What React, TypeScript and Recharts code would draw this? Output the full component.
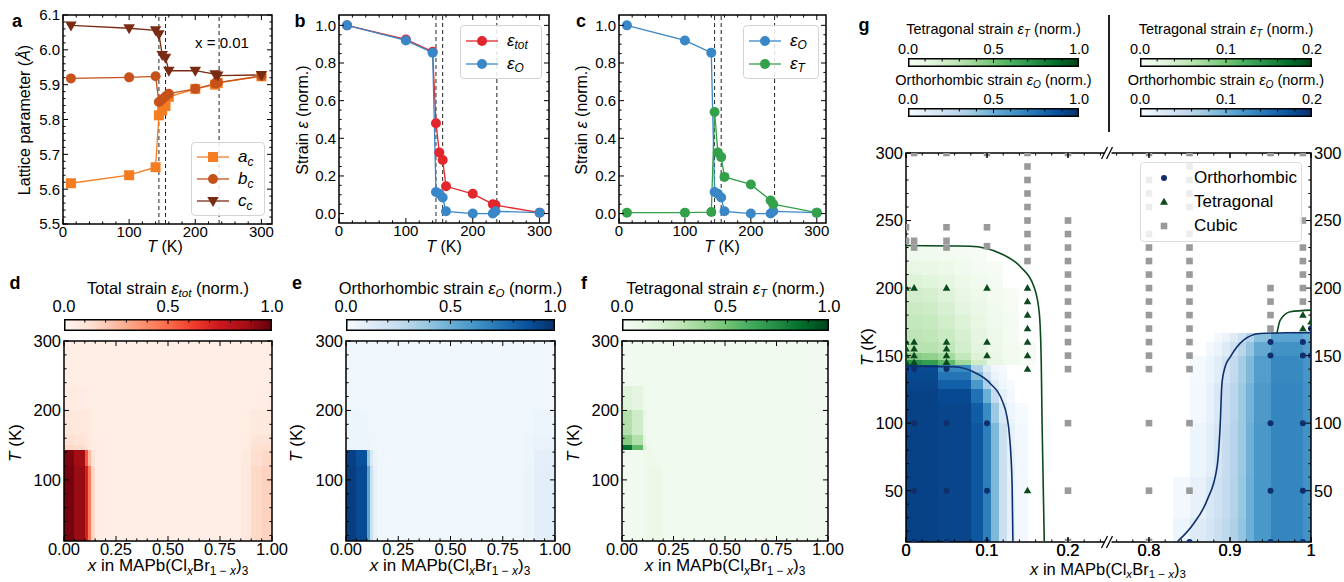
import React from "react";
import {
  LineChart, Line, ComposedChart, Scatter, XAxis, YAxis,
  ReferenceArea, ReferenceLine, ReferenceDot, Legend,
} from "recharts";

const FONT = "'Liberation Sans', Arial, Helvetica, sans-serif";

// ---- a–c: x = 0.01, temperature scans ----
const temps = [12, 100, 140, 145, 150, 155, 160, 200, 230, 234, 300];
const latticeA = [5.617, 5.64, 5.663, 5.812, 5.826, 5.839, 5.865, 5.888, 5.9, 5.905, 5.924];
const latticeB = [5.918, 5.921, 5.924, 5.85, 5.858, 5.866, 5.874, 5.888, 5.903, 5.906, 5.925];
const latticeC = [6.07, 6.062, 6.056, 6.045, 5.985, 5.977, 5.94, 5.94, 5.93, 5.926, 5.928];
const strainTot = [1.0, 0.925, 0.86, 0.48, 0.325, 0.285, 0.145, 0.105, 0.05, 0.045, 0.005];
const strainO = [1.0, 0.92, 0.855, 0.115, 0.105, 0.085, 0.012, 0.0, 0.0, 0.012, 0.005];
const strainT = [0.005, 0.005, 0.008, 0.54, 0.325, 0.3, 0.195, 0.155, 0.07, 0.05, 0.005];
const transitionTemps = [145, 155, 236];

// ---- d–f: strain maps (rows = T bands, bottom to top) ----
const mapX = [0, 0.05, 0.1, 0.115, 0.13, 0.15, 0.2, 0.85, 0.9, 0.95, 1.0];
const mapT = [12, 120, 143, 150, 165, 200, 235, 300];
const totalRows = [
  [0.97, 0.9, 0.72, 0.45, 0.15, 0.05, 0.04, 0.08, 0.15, 0.17],
  [0.96, 0.88, 0.55, 0.25, 0.1, 0.05, 0.04, 0.07, 0.13, 0.15],
  [0.15, 0.14, 0.1, 0.07, 0.06, 0.05, 0.04, 0.06, 0.12, 0.13],
  [0.12, 0.11, 0.09, 0.07, 0.05, 0.05, 0.04, 0.06, 0.1, 0.11],
  [0.09, 0.08, 0.07, 0.06, 0.05, 0.04, 0.04, 0.05, 0.07, 0.07],
  [0.06, 0.06, 0.05, 0.05, 0.04, 0.04, 0.04, 0.04, 0.05, 0.05],
  [0.04, 0.04, 0.04, 0.04, 0.04, 0.04, 0.04, 0.04, 0.04, 0.04],
];
const orthoRows = [
  [0.95, 0.9, 0.55, 0.22, 0.08, 0.04, 0.04, 0.06, 0.1, 0.11],
  [0.94, 0.88, 0.4, 0.15, 0.06, 0.04, 0.04, 0.05, 0.09, 0.1],
  [0.06, 0.06, 0.05, 0.04, 0.04, 0.04, 0.04, 0.05, 0.07, 0.07],
  [0.05, 0.05, 0.05, 0.04, 0.04, 0.04, 0.04, 0.05, 0.07, 0.07],
  [0.05, 0.05, 0.04, 0.04, 0.04, 0.04, 0.04, 0.04, 0.05, 0.05],
  [0.04, 0.04, 0.04, 0.04, 0.04, 0.04, 0.04, 0.04, 0.04, 0.04],
  [0.04, 0.04, 0.04, 0.04, 0.04, 0.04, 0.04, 0.04, 0.04, 0.04],
];
const tetraRows = [
  [0.04, 0.04, 0.05, 0.07, 0.08, 0.07, 0.04, 0.04, 0.05, 0.05],
  [0.04, 0.04, 0.05, 0.06, 0.06, 0.05, 0.04, 0.04, 0.05, 0.05],
  [0.85, 0.55, 0.18, 0.08, 0.05, 0.04, 0.04, 0.04, 0.05, 0.05],
  [0.45, 0.32, 0.12, 0.05, 0.04, 0.04, 0.04, 0.04, 0.05, 0.05],
  [0.32, 0.22, 0.09, 0.05, 0.04, 0.04, 0.04, 0.04, 0.04, 0.04],
  [0.15, 0.12, 0.06, 0.04, 0.04, 0.04, 0.04, 0.04, 0.04, 0.04],
  [0.04, 0.04, 0.04, 0.04, 0.04, 0.04, 0.04, 0.04, 0.04, 0.04],
];

// ---- g: phase diagram ----
const gOrthoLX = [0, 0.04, 0.08, 0.095, 0.105, 0.115, 0.125, 0.135, 0.15];
const gOrthoLT = [12, 100, 115, 125, 132, 138, 143];
const gOrthoLRows = [
  [0.93, 0.92, 0.85, 0.7, 0.45, 0.22, 0.08, 0.02],
  [0.93, 0.92, 0.83, 0.65, 0.38, 0.15, 0.05, 0.01],
  [0.93, 0.9, 0.75, 0.5, 0.25, 0.08, 0.02, 0],
  [0.92, 0.82, 0.6, 0.33, 0.12, 0.04, 0.01, 0],
  [0.91, 0.74, 0.45, 0.2, 0.06, 0.02, 0, 0],
  [0.9, 0.66, 0.32, 0.12, 0.03, 0.01, 0, 0],
];
const gTetraLX = [0, 0.02, 0.04, 0.06, 0.08, 0.1, 0.12, 0.14, 0.16];
const gTetraLT = [143, 147, 152, 160, 170, 180, 190, 200, 210, 220, 232];
const gTetraLRows = [
  [0.72, 0.68, 0.55, 0.38, 0.22, 0.1, 0.04, 0.01],
  [0.45, 0.42, 0.36, 0.26, 0.16, 0.08, 0.03, 0.01],
  [0.3, 0.3, 0.27, 0.2, 0.13, 0.07, 0.03, 0.01],
  [0.28, 0.27, 0.24, 0.18, 0.12, 0.06, 0.02, 0],
  [0.26, 0.25, 0.21, 0.16, 0.1, 0.05, 0.02, 0],
  [0.24, 0.22, 0.18, 0.13, 0.08, 0.04, 0.01, 0],
  [0.21, 0.19, 0.15, 0.1, 0.06, 0.03, 0.01, 0],
  [0.16, 0.14, 0.11, 0.07, 0.04, 0.02, 0, 0],
  [0.1, 0.09, 0.07, 0.04, 0.02, 0.01, 0, 0],
  [0.05, 0.04, 0.03, 0.02, 0.01, 0, 0, 0],
];
// right side is on the 0–0.2 scale
const gOrthoRX = [0.83, 0.85, 0.87, 0.88, 0.89, 0.9, 0.91, 0.92, 0.93, 0.95, 0.99, 1.0];
const gOrthoRT = [12, 30, 60, 100, 130, 150, 160, 167];
const gOrthoRRows = [
  [0.01, 0.025, 0.035, 0.045, 0.055, 0.065, 0.08, 0.1, 0.12, 0.135, 0.125],
  [0.005, 0.015, 0.03, 0.04, 0.05, 0.062, 0.078, 0.1, 0.12, 0.135, 0.125],
  [0, 0.01, 0.02, 0.035, 0.048, 0.06, 0.076, 0.098, 0.12, 0.135, 0.125],
  [0, 0.005, 0.015, 0.03, 0.045, 0.058, 0.075, 0.095, 0.118, 0.135, 0.125],
  [0, 0.003, 0.01, 0.022, 0.038, 0.052, 0.07, 0.09, 0.115, 0.132, 0.122],
  [0, 0, 0.005, 0.012, 0.025, 0.04, 0.058, 0.08, 0.105, 0.125, 0.115],
  [0, 0, 0, 0.005, 0.012, 0.025, 0.04, 0.06, 0.085, 0.11, 0.1],
];

const orthoCols: [number, number[]][] = [
  [0, [140]],
  [0.01, [140, 100, 50, 12]],
  [0.05, [140, 100, 50, 12]],
  [0.1, [100, 50, 12]],
  [0.85, [12]],
  [0.95, [160, 150, 100, 50, 12]],
  [0.99, [160, 150, 100, 50, 12]],
  [1, [170, 150]],
];
const tetraCols: [number, number[]][] = [
  [0, [200, 160, 155, 150, 145]],
  [0.01, [200, 160, 155, 150, 145]],
  [0.05, [200, 160, 155, 150, 145]],
  [0.1, [200, 160, 150]],
  [0.15, [200, 190, 180, 170, 160, 150, 140, 50]],
  [0.99, [180, 170]],
  [1, [175]],
];
const cubicCols: [number, number[]][] = [
  [0, [245, 235]],
  [0.01, [300, 235, 230]],
  [0.05, [300, 245, 235, 230]],
  [0.1, [300, 245, 231]],
  [0.15, [300, 290, 280, 270, 260, 250, 240, 230, 220]],
  [0.2, [300, 250, 240, 230, 220, 210, 200, 190, 180, 170, 160, 150, 140, 100, 50, 12]],
  [0.8, [300, 280, 270, 260, 240, 230, 220, 210, 200, 190, 180, 170, 160, 150, 140, 100, 50, 12]],
  [0.85, [300, 290, 280, 270, 260, 240, 230, 220, 210, 200, 190, 180, 170, 160, 150, 140, 100, 50]],
  [0.95, [300, 200, 190, 180, 170]],
  [0.99, [300, 250, 230, 220, 210, 200, 190]],
];
const tetraBoundaryL: [number, number][] = [
  [0, 231.5], [0.079, 231], [0.116, 225.8], [0.141, 215.9], [0.158, 201],
  [0.1646, 181.3], [0.167, 144], [0.168, 100], [0.1707, 12],
];
const orthoBoundaryL: [number, number][] = [
  [0, 142.2], [0.059, 141.7], [0.083, 138], [0.104, 129.4], [0.1185, 117],
  [0.1247, 104.6], [0.1275, 92.3], [0.131, 55], [0.132, 12],
];
const orthoBoundaryR: [number, number][] = [
  [0.8346, 12], [0.855, 25.5], [0.8716, 42.8], [0.884, 67.5], [0.888, 100],
  [0.89, 129], [0.894, 141.7], [0.9004, 149.1], [0.9168, 161.5], [0.937, 166.4],
  [0.97, 166.9], [1.0, 167],
];
const tetraBoundaryR: [number, number][] = [
  [0.958, 166.6], [0.962, 176.3], [0.9745, 182.5], [1.0, 183.7],
];
const gMajorU = [0, 0.1, 0.2, 0.3, 0.4, 0.5];
const gMajorLabels = ["0", "0.1", "0.2", "0.8", "0.9", "1"];

// ---- colours ----
const REDS = ["#fff5f0", "#fee0d2", "#fcbba1", "#fc9272", "#fb6a4a", "#ef3b2c", "#cb181d", "#a50f15", "#67000d"];
const BLUES = ["#f7fbff", "#deebf7", "#c6dbef", "#9ecae1", "#6baed6", "#4292c6", "#2171b5", "#08519c", "#08306b"];
const GREENS = ["#f7fcf5", "#e5f5e0", "#c7e9c0", "#a1d99b", "#74c476", "#41ab5d", "#238b45", "#006d2c", "#00441b"];
const C_A = "#f47d22", C_B = "#c6511b", C_C = "#7a2c12";
const C_TOT = "#e3262b", C_O = "#3a87c8", C_T = "#33a04a";
const NAVY = "#0f2f6c", DKGREEN = "#0b4a1d", GREY = "#9a9a9a";

const rgb = (h: string) => [1, 3, 5].map((k) => parseInt(h.slice(k, k + 2), 16));
function cmap(stops: string[], v: number) {
  const t = Math.max(0, Math.min(1, v)) * (stops.length - 1);
  const i = Math.min(stops.length - 2, Math.floor(t));
  const f = t - i;
  const a = rgb(stops[i]), b = rgb(stops[i + 1]);
  const c = a.map((ai, k) => Math.round(ai + (b[k] - ai) * f));
  return `rgb(${c[0]},${c[1]},${c[2]})`;
}

const range = (a: number, b: number, s: number) => {
  const out: number[] = [];
  for (let v = a; v <= b + 1e-9; v += s) out.push(+v.toFixed(6));
  return out;
};
const has = (arr: number[], v: number) => arr.some((m) => Math.abs(m - v) < 1e-6);
const toU = (x: number) => (x > 0.5 ? x - 0.5 : x);
const same = (x: number) => x;

const YW = 50, MT = 12, XH = 40;

type TickOpts = { majors: number[]; fmt: (v: number) => string; span: number; size: number; right?: boolean };

const xTick = (o: TickOpts) => (p: any) => {
  const v = p.payload.value;
  const major = has(o.majors, v);
  const L = major ? 5 : 2.6;
  return (
    <g>
      <line x1={p.x} x2={p.x} y1={p.y} y2={p.y - L} stroke="#000" strokeWidth={1} />
      <line x1={p.x} x2={p.x} y1={p.y - o.span} y2={p.y - o.span + L} stroke="#000" strokeWidth={1} />
      {major && (
        <text x={p.x} y={p.y + 2} dy="0.74em" textAnchor="middle" fontSize={o.size} fontFamily={FONT} fill="#000">
          {o.fmt(v)}
        </text>
      )}
    </g>
  );
};

const yTick = (o: TickOpts) => (p: any) => {
  const v = p.payload.value;
  const major = has(o.majors, v);
  const L = major ? 5 : 2.6;
  return (
    <g>
      <line x1={p.x} x2={p.x + L} y1={p.y} y2={p.y} stroke="#000" strokeWidth={1} />
      <line x1={p.x + o.span} x2={p.x + o.span - L} y1={p.y} y2={p.y} stroke="#000" strokeWidth={1} />
      {major && (
        <text x={p.x - 3} y={p.y} dy="0.36em" textAnchor="end" fontSize={o.size} fontFamily={FONT} fill="#000">
          {o.fmt(v)}
        </text>
      )}
      {major && o.right && (
        <text x={p.x + o.span + 3} y={p.y} dy="0.36em" textAnchor="start" fontSize={o.size} fontFamily={FONT} fill="#000">
          {o.fmt(v)}
        </text>
      )}
    </g>
  );
};

function Marker({ kind, cx, cy, r, color }: any) {
  if (cx == null || cy == null) return null;
  if (kind === "square") return <rect x={cx - r} y={cy - r} width={2 * r} height={2 * r} fill={color} />;
  if (kind === "down")
    return <polygon points={`${cx - r * 1.15},${cy - r * 0.8} ${cx + r * 1.15},${cy - r * 0.8} ${cx},${cy + r * 1.2}`} fill={color} />;
  if (kind === "up")
    return <polygon points={`${cx},${cy - r * 1.2} ${cx - r * 1.15},${cy + r * 0.8} ${cx + r * 1.15},${cy + r * 0.8}`} fill={color} />;
  return <circle cx={cx} cy={cy} r={r} fill={color} />;
}

const Sub = ({ children }: any) => (
  <span style={{ fontSize: "0.7em", position: "relative", top: "0.3em" }}>{children}</span>
);

function Txt({ x, y, size = 15, anchor = "middle", rotate = 0, bold = false, children }: any) {
  const tx = anchor === "middle" ? "-50%" : anchor === "end" ? "-100%" : "0";
  return (
    <div
      style={{
        position: "absolute", left: x, top: y, fontSize: size, fontWeight: bold ? 700 : 400,
        transform: `translate(${tx}, -50%) rotate(${rotate}deg)`, whiteSpace: "nowrap", lineHeight: 1.15,
      }}
    >
      {children}
    </div>
  );
}

function LineLegend({ items, rowH, size, lineW = 32, gap = 9 }: any) {
  return (
    <div style={{ border: "1px solid #d4d4d4", borderRadius: 4, background: "rgba(255,255,255,0.85)", padding: "3px 5px", fontFamily: FONT }}>
      {items.map((it: any) => (
        <div key={it.key} style={{ display: "flex", alignItems: "center", height: rowH }}>
          <svg width={lineW} height={14} style={{ overflow: "visible" }}>
            <line x1={0} x2={lineW} y1={7} y2={7} stroke={it.color} strokeWidth={1.3} />
            <Marker kind={it.marker} cx={lineW / 2} cy={7} r={5} color={it.color} />
          </svg>
          <span style={{ marginLeft: gap, fontSize: size }}>{it.label}</span>
        </div>
      ))}
    </div>
  );
}

function heatCells(id: string, xs: number[], ts: number[], rows: number[][], stops: string[], scale = 1, mapx = same) {
  const out: React.ReactNode[] = [];
  rows.forEach((row, j) =>
    row.forEach((v, i) => {
      if (v <= 0) return;
      out.push(
        <ReferenceArea
          key={`${id}-${j}-${i}`}
          x1={mapx(xs[i])} x2={mapx(xs[i + 1])} y1={ts[j]} y2={ts[j + 1]}
          fill={cmap(stops, v / scale)} fillOpacity={1} stroke="none"
          ifOverflow="hidden" shapeRendering="crispEdges"
        />
      );
    })
  );
  return out;
}

function Colorbar({ left, top, width, height, stops, labels, title, titleY, labelY, size, id }: any) {
  return (
    <>
      <Txt x={left + width / 2} y={titleY} size={size}>{title}</Txt>
      {labels.map((lb: string, i: number) => (
        <Txt key={lb + i} x={left + (width * i) / (labels.length - 1)} y={labelY} size={size}>{lb}</Txt>
      ))}
      <svg style={{ position: "absolute", left, top }} width={width} height={height}>
        <defs>
          <linearGradient id={id} x1="0" x2="1" y1="0" y2="0">
            {stops.map((c: string, i: number) => (
              <stop key={i} offset={i / (stops.length - 1)} stopColor={c} />
            ))}
          </linearGradient>
        </defs>
        <rect x={0.75} y={0.75} width={width - 1.5} height={height - 1.5} fill={`url(#${id})`} stroke="#000" strokeWidth={1.5} />
        {range(1, 9, 1).map((k) => (
          <line key={k} x1={(width * k) / 10} x2={(width * k) / 10} y1={1} y2={k === 5 ? 5 : 3.5} stroke="#000" strokeWidth={1} />
        ))}
      </svg>
    </>
  );
}

const plotA = { l: 63, t: 15, w: 209, h: 209 };
const plotB = { l: 339, t: 15, w: 210, h: 208 };
const plotC = { l: 619, t: 15, w: 207, h: 208 };
const plotD = { l: 64, t: 341, w: 208, h: 200 };
const plotE = { l: 346, t: 341, w: 209, h: 200 };
const plotF = { l: 622, t: 341, w: 206, h: 200 };
const plotG = { l: 906, t: 153, w: 405, h: 389 };

const tableA = temps.map((T, i) => ({ T, a: latticeA[i], b: latticeB[i], c: latticeC[i] }));
const tableS = temps.map((T, i) => ({ T, tot: strainTot[i], o: strainO[i], t: strainT[i] }));

const dot = (kind: string, color: string, r = 5) => (p: any) => (
  <Marker key={`${kind}-${color}-${p.index}`} kind={kind} cx={p.cx} cy={p.cy} r={r} color={color} />
);

function TempPanel({ plot, data, xMax, yDomain, yMajors, yMinorStep, yFmt, series, legend }: any) {
  const MR = 20;
  const xs = range(0, 300, 20);
  const ys = range(yDomain[0] < 0 ? 0 : yDomain[0], yMajors[yMajors.length - 1], yMinorStep);
  return (
    <div style={{ position: "absolute", left: plot.l - YW, top: plot.t - MT }}>
      <LineChart width={YW + plot.w + MR} height={MT + plot.h + XH} data={data} margin={{ top: MT, right: MR, left: 0, bottom: 0 }}>
        {transitionTemps.map((t) => (
          <ReferenceLine key={t} x={t} stroke="#222" strokeDasharray="4 3" strokeWidth={1} />
        ))}
        {series.map((s: any) => (
          <Line key={s.key} dataKey={s.key} stroke={s.color} strokeWidth={1.3} dot={dot(s.marker, s.color)} isAnimationActive={false} />
        ))}
        <ReferenceArea x1={0} x2={xMax} y1={yDomain[0]} y2={yDomain[1]} fill="none" stroke="#000" strokeWidth={1.5} ifOverflow="visible" />
        <XAxis
          dataKey="T" type="number" domain={[0, xMax]} ticks={xs} interval={0} tickSize={0} tickMargin={0}
          tickLine={false} axisLine={false} height={XH} allowDataOverflow
          tick={xTick({ majors: [0, 100, 200, 300], fmt: (v) => String(v), span: plot.h, size: 15 })}
        />
        <YAxis
          type="number" domain={yDomain} ticks={ys} interval={0} tickSize={0} tickMargin={0}
          tickLine={false} axisLine={false} width={YW} allowDataOverflow
          tick={yTick({ majors: yMajors, fmt: yFmt, span: plot.w, size: 15 })}
        />
        <Legend layout="vertical" align="center" verticalAlign="middle" wrapperStyle={legend.style} content={() => legend.node} />
      </LineChart>
    </div>
  );
}

function HeatPanel({ plot, rows, stops, id }: any) {
  const MR = 22;
  return (
    <div style={{ position: "absolute", left: plot.l - YW, top: plot.t - MT }}>
      <ComposedChart width={YW + plot.w + MR} height={MT + plot.h + XH} margin={{ top: MT, right: MR, left: 0, bottom: 0 }}>
        {heatCells(id, mapX, mapT, rows, stops)}
        <Scatter data={[]} dataKey="T" isAnimationActive={false} />
        <ReferenceArea x1={0} x2={1} y1={12} y2={300} fill="none" stroke="#000" strokeWidth={1.5} ifOverflow="visible" />
        <XAxis
          dataKey="x" type="number" domain={[0, 1]} ticks={range(0, 1, 0.05)} interval={0} tickSize={0} tickMargin={0}
          tickLine={false} axisLine={false} height={XH} allowDataOverflow
          tick={xTick({ majors: [0, 0.25, 0.5, 0.75, 1], fmt: (v) => v.toFixed(2), span: plot.h, size: 16.5 })}
        />
        <YAxis
          dataKey="T" type="number" domain={[12, 300]} ticks={range(20, 300, 20)} interval={0} tickSize={0} tickMargin={0}
          tickLine={false} axisLine={false} width={YW} allowDataOverflow
          tick={yTick({ majors: [100, 200, 300], fmt: (v) => String(v), span: plot.w, size: 16.5 })}
        />
      </ComposedChart>
    </div>
  );
}

const BreakMark = ({ cx, cy }: any) => (
  <g>
    <rect x={cx - 4} y={cy - 2} width={7} height={4} fill="#fff" />
    <line x1={cx - 7} y1={cy + 6} x2={cx - 1} y2={cy - 6} stroke="#000" strokeWidth={1.2} />
    <line x1={cx - 2} y1={cy + 6} x2={cx + 4} y2={cy - 6} stroke="#000" strokeWidth={1.2} />
  </g>
);

const flatten = (cols: [number, number[]][]) => cols.flatMap(([x, ts]) => ts.map((T) => ({ u: toU(x), T })));
const asLine = (pts: [number, number][]) => pts.map(([x, T]) => ({ u: toU(x), T }));

function PhasePanel() {
  const plot = plotG;
  const MR = 42;
  const legendNode = (
    <div style={{ border: "1px solid #dcdcdc", borderRadius: 4, background: "rgba(255,255,255,0.82)", padding: "3px 0 3px 12px", fontFamily: FONT }}>
      {[
        { k: "o", label: "Orthorhombic", kind: "circle", color: NAVY, r: 3 },
        { k: "t", label: "Tetragonal", kind: "up", color: DKGREEN, r: 3.5 },
        { k: "c", label: "Cubic", kind: "square", color: GREY, r: 3.3 },
      ].map((it) => (
        <div key={it.k} style={{ display: "flex", alignItems: "center", height: 24 }}>
          <svg width={22} height={12}><Marker kind={it.kind} cx={11} cy={6} r={it.r} color={it.color} /></svg>
          <span style={{ marginLeft: 19, fontSize: 17 }}>{it.label}</span>
        </div>
      ))}
    </div>
  );
  return (
    <div style={{ position: "absolute", left: plot.l - YW, top: plot.t - MT }}>
      <ComposedChart width={YW + plot.w + MR} height={MT + plot.h + XH} margin={{ top: MT, right: MR, left: 0, bottom: 0 }}>
        {heatCells("gol", gOrthoLX, gOrthoLT, gOrthoLRows, BLUES, 1, toU)}
        {heatCells("gtl", gTetraLX, gTetraLT, gTetraLRows, GREENS, 1, toU)}
        {heatCells("gor", gOrthoRX, gOrthoRT, gOrthoRRows, BLUES, 0.2, toU)}
        <Line data={asLine(tetraBoundaryL)} dataKey="T" type="monotone" stroke={DKGREEN} strokeWidth={1.6} dot={false} isAnimationActive={false} />
        <Line data={asLine(orthoBoundaryL)} dataKey="T" type="monotone" stroke={NAVY} strokeWidth={1.6} dot={false} isAnimationActive={false} />
        <Line data={asLine(orthoBoundaryR)} dataKey="T" type="monotone" stroke={NAVY} strokeWidth={1.6} dot={false} isAnimationActive={false} />
        <Line data={asLine(tetraBoundaryR)} dataKey="T" type="monotone" stroke={DKGREEN} strokeWidth={1.6} dot={false} isAnimationActive={false} />
        <Scatter data={flatten(cubicCols)} dataKey="T" isAnimationActive={false}
          shape={(p: any) => <Marker kind="square" cx={p.cx} cy={p.cy} r={3.3} color={GREY} />} />
        <Scatter data={flatten(tetraCols)} dataKey="T" isAnimationActive={false}
          shape={(p: any) => <Marker kind="up" cx={p.cx} cy={p.cy} r={3.3} color={DKGREEN} />} />
        <Scatter data={flatten(orthoCols)} dataKey="T" isAnimationActive={false}
          shape={(p: any) => <Marker kind="circle" cx={p.cx} cy={p.cy} r={3} color={NAVY} />} />
        <ReferenceArea x1={0} x2={0.5} y1={12} y2={300} fill="none" stroke="#000" strokeWidth={1.5} ifOverflow="visible" />
        <ReferenceDot x={0.25} y={300} ifOverflow="visible" shape={(p: any) => <BreakMark cx={p.cx} cy={p.cy} />} />
        <ReferenceDot x={0.25} y={12} ifOverflow="visible" shape={(p: any) => <BreakMark cx={p.cx} cy={p.cy} />} />
        <XAxis
          dataKey="u" type="number" domain={[0, 0.5]} ticks={range(0, 0.5, 0.02).concat(gMajorU)} interval={0} tickSize={0} tickMargin={0}
          tickLine={false} axisLine={false} height={XH} allowDataOverflow
          tick={xTick({ majors: gMajorU, fmt: (v) => gMajorLabels[gMajorU.findIndex((m) => Math.abs(m - v) < 1e-6)], span: plot.h, size: 16.5 })}
        />
        <YAxis
          dataKey="T" type="number" domain={[12, 300]} ticks={range(20, 300, 10)} interval={0} tickSize={0} tickMargin={0}
          tickLine={false} axisLine={false} width={YW} allowDataOverflow
          tick={yTick({ majors: [50, 100, 150, 200, 250, 300], fmt: (v) => String(v), span: plot.w, size: 16.5, right: true })}
        />
        <Legend layout="vertical" align="center" verticalAlign="middle"
          wrapperStyle={{ left: 284, top: 21, width: 162 }} content={() => legendNode} />
      </ComposedChart>
    </div>
  );
}

const xLabel = (
  <>
    <i>x</i> in MAPb(Cl<Sub><i>x</i></Sub>Br<Sub>1 − <i>x</i></Sub>)<Sub>3</Sub>
  </>
);

export default function App() {
  const legendA = (
    <LineLegend rowH={22} size={17} items={[
      { key: "a", color: C_A, marker: "square", label: <><i>a</i><Sub><i>c</i></Sub></> },
      { key: "b", color: C_B, marker: "circle", label: <><i>b</i><Sub><i>c</i></Sub></> },
      { key: "c", color: C_C, marker: "down", label: <><i>c</i><Sub><i>c</i></Sub></> },
    ]} />
  );
  const legendB = (
    <LineLegend rowH={23} size={17} items={[
      { key: "tot", color: C_TOT, marker: "circle", label: <><i>ε</i><Sub><i>tot</i></Sub></> },
      { key: "o", color: C_O, marker: "circle", label: <><i>ε</i><Sub><i>O</i></Sub></> },
    ]} />
  );
  const legendC = (
    <LineLegend rowH={23} size={17} items={[
      { key: "o", color: C_O, marker: "circle", label: <><i>ε</i><Sub><i>O</i></Sub></> },
      { key: "t", color: C_T, marker: "circle", label: <><i>ε</i><Sub><i>T</i></Sub></> },
    ]} />
  );
  const strainLabel = <>Strain <i>ε</i> (norm.)</>;
  return (
    <div style={{ position: "relative", width: 1344, height: 582, background: "#fff", fontFamily: FONT, color: "#000", overflow: "hidden" }}>
      <style>{"body{margin:0}"}</style>

      {/* a */}
      <TempPanel
        plot={plotA} data={tableA} xMax={316} yDomain={[5.5, 6.1]} yMajors={[5.5, 5.6, 5.7, 5.8, 5.9, 6.0, 6.1]}
        yMinorStep={0.02} yFmt={(v: number) => v.toFixed(1)}
        series={[
          { key: "a", color: C_A, marker: "square" },
          { key: "b", color: C_B, marker: "circle" },
          { key: "c", color: C_C, marker: "down" },
        ]}
        legend={{ node: legendA, style: { left: 178, top: 139, width: 74 } }}
      />
      {/* b */}
      <TempPanel
        plot={plotB} data={tableS} xMax={314} yDomain={[-0.05, 1.055]} yMajors={[0, 0.2, 0.4, 0.6, 0.8, 1.0]}
        yMinorStep={0.05} yFmt={(v: number) => v.toFixed(1)}
        series={[
          { key: "tot", color: C_TOT, marker: "circle" },
          { key: "o", color: C_O, marker: "circle" },
        ]}
        legend={{ node: legendB, style: { left: 171, top: 22, width: 82 } }}
      />
      {/* c */}
      <TempPanel
        plot={plotC} data={tableS} xMax={314} yDomain={[-0.05, 1.055]} yMajors={[0, 0.2, 0.4, 0.6, 0.8, 1.0]}
        yMinorStep={0.05} yFmt={(v: number) => v.toFixed(1)}
        series={[
          { key: "o", color: C_O, marker: "circle" },
          { key: "t", color: C_T, marker: "circle" },
        ]}
        legend={{ node: legendC, style: { left: 174, top: 22, width: 76 } }}
      />

      <Txt x={17} y={21} size={18} bold>a</Txt>
      <Txt x={300} y={21} size={18} bold>b</Txt>
      <Txt x={581} y={21} size={18} bold>c</Txt>
      <Txt x={864} y={25} size={18} bold>g</Txt>
      <Txt x={15} y={283} size={18} bold>d</Txt>
      <Txt x={297} y={283} size={18} bold>e</Txt>
      <Txt x={584} y={283} size={18} bold>f</Txt>

      <Txt x={222} y={43} size={15}>x = 0.01</Txt>
      <Txt x={25} y={120} size={16} rotate={-90}>Lattice parameter (<i>Å</i>)</Txt>
      <Txt x={303} y={120} size={16} rotate={-90}>{strainLabel}</Txt>
      <Txt x={582} y={120} size={16} rotate={-90}>{strainLabel}</Txt>
      <Txt x={165} y={247} size={16}><i>T</i> (K)</Txt>
      <Txt x={444} y={247} size={16}><i>T</i> (K)</Txt>
      <Txt x={722} y={247} size={16}><i>T</i> (K)</Txt>

      {/* d–f */}
      <HeatPanel plot={plotD} rows={totalRows} stops={REDS} id="d" />
      <HeatPanel plot={plotE} rows={orthoRows} stops={BLUES} id="e" />
      <HeatPanel plot={plotF} rows={tetraRows} stops={GREENS} id="f" />

      <Colorbar id="cbd" left={64} top={319} width={208} height={12} stops={REDS} labels={["0.0", "0.5", "1.0"]}
        title={<>Total strain <i>ε</i><Sub><i>tot</i></Sub> (norm.)</>} titleY={288} labelY={306} size={16.5} />
      <Colorbar id="cbe" left={346} top={319} width={209} height={12} stops={BLUES} labels={["0.0", "0.5", "1.0"]}
        title={<>Orthorhombic strain <i>ε</i><Sub><i>O</i></Sub> (norm.)</>} titleY={288} labelY={306} size={16.5} />
      <Colorbar id="cbf" left={622} top={319} width={207} height={12} stops={GREENS} labels={["0.0", "0.5", "1.0"]}
        title={<>Tetragonal strain <i>ε</i><Sub><i>T</i></Sub> (norm.)</>} titleY={288} labelY={306} size={16.5} />

      {[16, 297, 574].map((x) => (
        <Txt key={x} x={x} y={443} size={17} rotate={-90}><i>T</i> (K)</Txt>
      ))}
      {[168, 450, 725].map((x) => (
        <Txt key={x} x={x} y={566} size={17}>{xLabel}</Txt>
      ))}

      {/* g */}
      <PhasePanel />
      <Colorbar id="cbg1" left={908} top={58} width={171} height={9} stops={GREENS} labels={["0.0", "0.5", "1.0"]}
        title={<>Tetragonal strain <i>ε</i><Sub><i>T</i></Sub> (norm.)</>} titleY={29} labelY={49} size={14.5} />
      <Colorbar id="cbg2" left={908} top={108} width={171} height={9} stops={BLUES} labels={["0.0", "0.5", "1.0"]}
        title={<>Orthorhombic strain <i>ε</i><Sub><i>O</i></Sub> (norm.)</>} titleY={80} labelY={99} size={14.5} />
      <Colorbar id="cbg3" left={1140} top={58} width={172} height={9} stops={GREENS} labels={["0.0", "0.1", "0.2"]}
        title={<>Tetragonal strain <i>ε</i><Sub><i>T</i></Sub> (norm.)</>} titleY={29} labelY={49} size={14.5} />
      <Colorbar id="cbg4" left={1140} top={108} width={172} height={9} stops={BLUES} labels={["0.0", "0.1", "0.2"]}
        title={<>Orthorhombic strain <i>ε</i><Sub><i>O</i></Sub> (norm.)</>} titleY={80} labelY={99} size={14.5} />
      <div style={{ position: "absolute", left: 1108, top: 15, width: 2, height: 117, background: "#222" }} />
      <Txt x={868} y={347} size={17} rotate={-90}><i>T</i> (K)</Txt>
      <Txt x={1108} y={569} size={16.5}>{xLabel}</Txt>
    </div>
  );
}
